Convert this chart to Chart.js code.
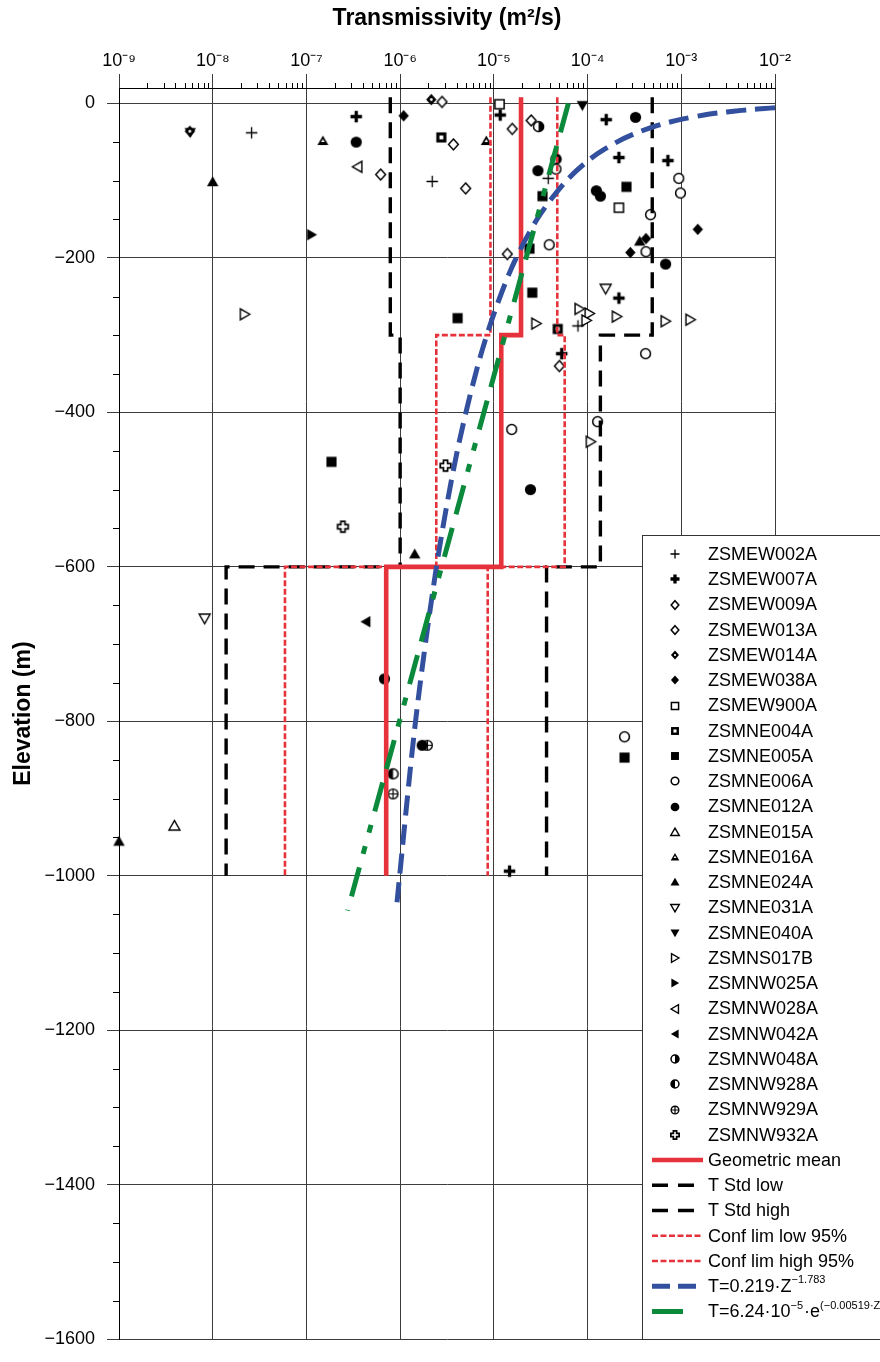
<!DOCTYPE html>
<html><head><meta charset="utf-8">
<script src="https://cdn.jsdelivr.net/npm/chart.js@4.4.1/dist/chart.umd.min.js"></script>
<style>html,body{margin:0;padding:0;background:#fff;}#wrap{width:880px;height:1362px;position:relative;overflow:hidden;}</style>
</head><body><div id="wrap"><canvas id="c" width="880" height="1362"></canvas></div>
<script>
const F = "'Liberation Sans', Arial, Helvetica, sans-serif";

// ---- axis ticks ----
const xTickValues = [1e-9, 1e-8, 1e-7, 1e-6, 1e-5, 1e-4, 1e-3, 1e-2];
const xTickLabels = ['10⁻⁹', '10⁻⁸', '10⁻⁷', '10⁻⁶', '10⁻⁵', '10⁻⁴', '10⁻³', '10⁻²'];
const yTickValues = [-1600, -1400, -1200, -1000, -800, -600, -400, -200, 0];
const yTickLabels = ['−1600', '−1400', '−1200', '−1000', '−800', '−600', '−400', '−200', '0'];

// ---- borehole data: [transmissivity (m²/s), elevation (m)] ----
const ZSMEW002A = [[2.6e-8, -38], [2.2e-6, -101], [3.8e-5, -97], [7.9e-5, -288]];
const ZSMEW007A = [[3.4e-7, -17], [1.17e-5, -15], [1.58e-4, -21], [2.16e-4, -70], [7.2e-4, -74], [2.16e-4, -252], [5.3e-5, -324], [1.47e-5, -994]];
const ZSMEW009A = [[6.2e-7, -92], [3.7e-6, -53], [1.57e-5, -33], [5.0e-6, -110]];
const ZSMEW013A = [[2.8e-6, 2], [2.5e-5, -22], [1.39e-5, -195], [5.0e-5, -340]];
const ZSMEW014A = [[2.15e-6, 5], [5.7e-9, -36]];
const ZSMEW038A = [[1.09e-6, -16], [1.5e-3, -163], [4.2e-4, -175], [2.86e-4, -193]];
const ZSMEW900A = [[1.15e-5, -1], [2.16e-4, -135]];
const ZSMNE004A = [[2.75e-6, -44], [4.8e-5, -292]];
const ZSMNE005A = [[3.3e-5, -120], [2.6e-4, -108], [2.4e-5, -188], [2.57e-5, -245], [4.1e-6, -278], [1.85e-7, -464], [2.48e-4, -847]];
const ZSMNE006A = [[4.6e-5, -85], [3.9e-5, -183], [9.4e-4, -97], [9.8e-4, -116], [4.7e-4, -144], [4.2e-4, -192], [4.16e-4, -324], [1.55e-5, -422], [1.28e-4, -412], [2.48e-4, -820]];
const ZSMNE012A = [[3.4e-7, -50], [2.95e-5, -87], [3.25e-4, -18], [1.24e-4, -113], [1.37e-4, -120], [6.8e-4, -208], [2.46e-5, -500], [6.8e-7, -745], [1.72e-6, -831]];
const ZSMNE015A = [[3.9e-9, -935]];
const ZSMNE016A = [[1.5e-7, -48], [8.3e-6, -48]];
const ZSMNE024A = [[1.0e-8, -101], [3.6e-4, -178], [1.43e-6, -583], [1.0e-9, -955]];
const ZSMNE031A = [[8.2e-9, -667], [1.56e-4, -240]];
const ZSMNE040A = [[5.75e-9, -38], [8.8e-5, -3]];
const ZSMNS017B = [[2.2e-8, -273], [2.83e-5, -285], [8.2e-5, -266], [1.05e-4, -272], [9.7e-5, -281], [2.05e-4, -276], [6.8e-4, -282], [1.25e-3, -280], [1.08e-4, -438]];
const ZSMNW025A = [[1.14e-7, -170]];
const ZSMNW028A = [[3.5e-7, -82]];
const ZSMNW042A = [[4.3e-7, -671]];
const ZSMNW048A = [[3.0e-5, -30], [4.6e-5, -72]];
const ZSMNW928A = [[8.4e-7, -868]];
const ZSMNW929A = [[1.95e-6, -831], [8.4e-7, -894]];
const ZSMNW932A = [[3.05e-6, -469], [2.45e-7, -548]];

// ---- depth zones & statistics (m²/s) ----
const zoneTop = [8, -300, -600];
const zoneBottom = [-300, -600, -1000];
const geoMean = [1.95e-5, 1.2e-5, 7.1e-7];
const stdLow = [7.85e-7, 1.0e-6, 1.39e-8];
const stdHigh = [4.9e-4, 1.37e-4, 3.65e-5];
const confLow = [9.2e-6, 2.43e-6, 5.9e-8];
const confHigh = [4.75e-5, 5.7e-5, 8.6e-6];

// ---- fitted curves: depth (m) and T (m²/s) ----
const powerDepth = [5.64, 6.5, 8, 10, 12, 15, 20, 25, 30, 40, 50, 70, 100, 150, 220, 320, 450, 600, 800, 1045];
const powerT = [1.0e-2, 7.78e-3, 5.37e-3, 3.61e-3, 2.61e-3, 1.75e-3, 1.05e-3, 7.05e-4, 5.09e-4, 3.05e-4, 2.05e-4, 1.12e-4, 5.95e-5, 2.89e-5, 1.46e-5, 7.48e-6, 4.07e-6, 2.44e-6, 1.46e-6, 9.07e-7];
const expDepth = [0, 200, 400, 600, 800, 1045];
const expT = [6.24e-5, 2.21e-5, 7.83e-6, 2.77e-6, 9.82e-7, 2.75e-7];

const RED = '#e6323b', BLUE = '#33509f', GREEN = '#0b8a3c', BLACK = '#000';

// ---- marker glyphs ----
function marker(kind, s) {
  const W = Math.ceil(s) + 7;
  const c = document.createElement('canvas'); c.width = W; c.height = W;
  const g = c.getContext('2d'); g.translate(W / 2, W / 2);
  const r = s / 2;
  g.fillStyle = '#000'; g.strokeStyle = '#000'; g.lineJoin = 'miter';
  const P = pts => { g.beginPath(); g.moveTo(pts[0][0], pts[0][1]); for (let i = 1; i < pts.length; i++) g.lineTo(pts[i][0], pts[i][1]); g.closePath(); };
  const open = lw => { g.fillStyle = '#fff'; g.fill(); g.lineWidth = lw; g.stroke(); g.fillStyle = '#000'; };
  const tri = (dir, R) => { const a0 = {up: -Math.PI / 2, down: Math.PI / 2, right: 0, left: Math.PI}[dir];
    const off = {up: [0, R * 0.2], down: [0, -R * 0.2], right: [-R * 0.2, 0], left: [R * 0.2, 0]}[dir];
    P([0, 1, 2].map(k => { const a = a0 + k * 2 * Math.PI / 3; return [R * Math.cos(a) + off[0], R * Math.sin(a) + off[1]]; })); };
  const circ = R => { g.beginPath(); g.arc(0, 0, R, 0, Math.PI * 2); };
  switch (kind) {
    case 'plus': g.lineWidth = 1.3; g.beginPath(); g.moveTo(-r, 0); g.lineTo(r, 0); g.moveTo(0, -r); g.lineTo(0, r); g.stroke(); break;
    case 'plusBold': g.lineWidth = 3.3; g.beginPath(); g.moveTo(-r, 0); g.lineTo(r, 0); g.moveTo(0, -r); g.lineTo(0, r); g.stroke(); break;
    case 'diaOpen': P([[0, -r * 0.95], [r * 0.85, 0], [0, r * 0.95], [-r * 0.85, 0]]); open(1.5); break;
    case 'diaDot': P([[0, -r], [r * 0.9, 0], [0, r], [-r * 0.9, 0]]); g.fill(); g.fillStyle = '#fff'; circ(r * 0.24); g.fill(); break;
    case 'diaFill': P([[0, -r], [r * 0.9, 0], [0, r], [-r * 0.9, 0]]); g.fill(); break;
    case 'sqOpen': g.beginPath(); g.rect(-r * 0.8, -r * 0.8, r * 1.6, r * 1.6); open(1.5); break;
    case 'sqHole': g.fillRect(-r * 0.88, -r * 0.88, r * 1.76, r * 1.76); g.fillStyle = '#fff'; g.fillRect(-r * 0.34, -r * 0.34, r * 0.68, r * 0.68); break;
    case 'sqFill': g.fillRect(-r * 0.88, -r * 0.88, r * 1.76, r * 1.76); break;
    case 'cirOpen': circ(r * 0.85); open(1.5); break;
    case 'cirFill': circ(r * 0.97); g.fill(); break;
    case 'triUpOpen': tri('up', r * 1.1); open(1.4); break;
    case 'triUpDot': tri('up', r * 1.1); g.fill(); g.fillStyle = '#fff'; tri('up', r * 0.35); g.fill(); break;
    case 'triUpFill': tri('up', r * 1.15); g.fill(); break;
    case 'triDownOpen': tri('down', r * 1.1); open(1.4); break;
    case 'triDownFill': tri('down', r * 1.15); g.fill(); break;
    case 'triRightOpen': tri('right', r * 1.1); open(1.4); break;
    case 'triRightFill': tri('right', r * 1.15); g.fill(); break;
    case 'triLeftOpen': tri('left', r * 1.1); open(1.4); break;
    case 'triLeftFill': tri('left', r * 1.15); g.fill(); break;
    case 'halfR': circ(r * 0.88); g.fillStyle = '#fff'; g.fill(); g.fillStyle = '#000';
      g.beginPath(); g.arc(0, 0, r * 0.88, -Math.PI / 2, Math.PI / 2); g.closePath(); g.fill();
      circ(r * 0.88); g.lineWidth = 1.5; g.stroke(); break;
    case 'halfL': circ(r * 0.88); g.fillStyle = '#fff'; g.fill(); g.fillStyle = '#000';
      g.beginPath(); g.arc(0, 0, r * 0.88, Math.PI / 2, Math.PI * 1.5); g.closePath(); g.fill();
      circ(r * 0.88); g.lineWidth = 1.5; g.stroke(); break;
    case 'cirPlus': circ(r * 0.85); open(1.4); g.lineWidth = 1.2; g.beginPath(); g.moveTo(-r * 0.85, 0); g.lineTo(r * 0.85, 0); g.moveTo(0, -r * 0.85); g.lineTo(0, r * 0.85); g.stroke(); break;
    case 'crossOpen': { const w = r * 0.36, L = r * 0.92;
      P([[-w, -L], [w, -L], [w, -w], [L, -w], [L, w], [w, w], [w, L], [-w, L], [-w, w], [-L, w], [-L, -w], [-w, -w]]); open(1.7); break; }
  }
  return c;
}

const boreholes = [
  ['ZSMEW002A', ZSMEW002A, 'plus'], ['ZSMEW007A', ZSMEW007A, 'plusBold'], ['ZSMEW009A', ZSMEW009A, 'diaOpen'],
  ['ZSMEW013A', ZSMEW013A, 'diaOpen'], ['ZSMEW014A', ZSMEW014A, 'diaDot'], ['ZSMEW038A', ZSMEW038A, 'diaFill'],
  ['ZSMEW900A', ZSMEW900A, 'sqOpen'], ['ZSMNE004A', ZSMNE004A, 'sqHole'], ['ZSMNE005A', ZSMNE005A, 'sqFill'],
  ['ZSMNE006A', ZSMNE006A, 'cirOpen'], ['ZSMNE012A', ZSMNE012A, 'cirFill'], ['ZSMNE015A', ZSMNE015A, 'triUpOpen'],
  ['ZSMNE016A', ZSMNE016A, 'triUpDot'], ['ZSMNE024A', ZSMNE024A, 'triUpFill'], ['ZSMNE031A', ZSMNE031A, 'triDownOpen'],
  ['ZSMNE040A', ZSMNE040A, 'triDownFill'], ['ZSMNS017B', ZSMNS017B, 'triRightOpen'], ['ZSMNW025A', ZSMNW025A, 'triRightFill'],
  ['ZSMNW028A', ZSMNW028A, 'triLeftOpen'], ['ZSMNW042A', ZSMNW042A, 'triLeftFill'], ['ZSMNW048A', ZSMNW048A, 'halfR'],
  ['ZSMNW928A', ZSMNW928A, 'halfL'], ['ZSMNW929A', ZSMNW929A, 'cirPlus'], ['ZSMNW932A', ZSMNW932A, 'crossOpen']
];

function stepPath(vals) {
  const pts = [];
  vals.forEach((v, i) => { pts.push({x: v, y: zoneTop[i]}); pts.push({x: v, y: zoneBottom[i]}); });
  return pts;
}

const GREEN_DASH = [30, 14, 30, 14, 8, 14, 8, 14];
const lineSets = [
  {label: 'Geometric mean', data: stepPath(geoMean), borderColor: RED, borderWidth: 4.6, borderDash: [], order: 3},
  {label: 'T Std low', data: stepPath(stdLow), borderColor: BLACK, borderWidth: 3.4, borderDash: [16, 9], order: 6},
  {label: 'T Std high', data: stepPath(stdHigh), borderColor: BLACK, borderWidth: 3.4, borderDash: [16, 9], order: 6},
  {label: 'Conf lim low 95%', data: stepPath(confLow), borderColor: RED, borderWidth: 2.6, borderDash: [6, 2.5], order: 5},
  {label: 'Conf lim high 95%', data: stepPath(confHigh), borderColor: RED, borderWidth: 2.6, borderDash: [6, 2.5], order: 5},
  {label: 'T=0.219·Z^-1.783', data: powerDepth.map((z, i) => ({x: powerT[i], y: -z})), borderColor: BLUE, borderWidth: 5, borderDash: [20, 9], tension: 0.3, order: 2},
  {label: 'T=6.24·10^-5·e^(-0.00519·Z)', data: expDepth.map((z, i) => ({x: expT[i], y: -z})), borderColor: GREEN, borderWidth: 5, borderDash: GREEN_DASH, order: 1}
];

const datasets = [];
boreholes.forEach(([name, arr, kind]) => datasets.push({
  label: name, data: arr.map(([t, z]) => ({x: t, y: z})), pointStyle: marker(kind, 11.5),
  pointRadius: 5, showLine: false, clip: false, order: 10
}));
lineSets.forEach(l => datasets.push(Object.assign({showLine: true, pointRadius: 0, fill: false, clip: 0, tension: 0}, l)));

// ---- minor ticks ----
const minorTicks = {
  id: 'minorTicks',
  afterDraw(chart) {
    const {ctx, scales: {x, y}, chartArea: a} = chart;
    ctx.save(); ctx.strokeStyle = '#000'; ctx.lineWidth = 1; ctx.beginPath();
    for (let e = -9; e < -2; e++) for (let k = 2; k <= 9; k++) {
      const px = Math.round(x.getPixelForValue(k * Math.pow(10, e))) + 0.5;
      ctx.moveTo(px, a.top); ctx.lineTo(px, a.top - 5);
    }
    for (let v = -1550; v < 20; v += 50) {
      if (v % 200 === 0) continue;
      const py = Math.round(y.getPixelForValue(v)) + 0.5;
      ctx.moveTo(a.left, py); ctx.lineTo(a.left - 6, py);
    }
    ctx.stroke(); ctx.restore();
  }
};

// ---- legend (boxed, overlapping the plot at lower right) ----
const legendBox = {
  id: 'legendBox',
  afterDraw(chart) {
    const ctx = chart.ctx;
    const bx = 642.5, by = 535.5, bw = 260, bh = 804;
    const y0 = 554, dy = 25.25, mx = 675, tx = 708;
    ctx.save();
    ctx.fillStyle = '#fff'; ctx.fillRect(bx, by, bw, bh);
    ctx.strokeStyle = '#333'; ctx.lineWidth = 1; ctx.strokeRect(bx, by, bw, bh);
    ctx.font = '18px ' + F; ctx.fillStyle = '#000'; ctx.textBaseline = 'middle'; ctx.textAlign = 'left';
    boreholes.forEach(([name, , kind], i) => {
      const y = y0 + i * dy;
      const img = marker(kind, 9);
      ctx.drawImage(img, Math.round(mx - img.width / 2), Math.round(y - img.height / 2));
      ctx.fillText(name, tx, y + 1);
    });
    const seg = (y, color, w, dash, x1, x2) => {
      ctx.save(); ctx.strokeStyle = color; ctx.lineWidth = w; ctx.setLineDash(dash);
      ctx.beginPath(); ctx.moveTo(x1, y); ctx.lineTo(x2, y); ctx.stroke(); ctx.restore();
    };
    const txt = (y, parts) => {
      let x = tx;
      parts.forEach(p => {
        ctx.font = (p.sup ? '11px ' : '18px ') + F;
        ctx.fillText(p.t, x, p.sup ? y - 6 : y + 1);
        x += ctx.measureText(p.t).width + (p.sup ? 1 : 0);
      });
      ctx.font = '18px ' + F;
    };
    let i = boreholes.length;
    let y = y0 + i * dy;
    seg(y, RED, 4.6, [], 652, 703); txt(y, [{t: 'Geometric mean'}]); y += dy;
    seg(y, BLACK, 3.4, [16, 10], 652, 697); txt(y, [{t: 'T Std low'}]); y += dy;
    seg(y, BLACK, 3.4, [16, 10], 652, 697); txt(y, [{t: 'T Std high'}]); y += dy;
    seg(y, RED, 2.6, [6, 2.5], 652, 703); txt(y, [{t: 'Conf lim low 95%'}]); y += dy;
    seg(y, RED, 2.6, [6, 2.5], 652, 703); txt(y, [{t: 'Conf lim high 95%'}]); y += dy;
    seg(y, BLUE, 5, [18, 8], 652, 697); txt(y, [{t: 'T=0.219·Z'}, {t: '−1.783', sup: true}]); y += dy;
    seg(y, GREEN, 5, [], 652, 683); txt(y, [{t: 'T=6.24·10'}, {t: '−5', sup: true}, {t: '·e'}, {t: '(−0.00519·Z)', sup: true}]);
    ctx.restore();
  }
};

Chart.defaults.font.family = F;
new Chart(document.getElementById('c'), {
  type: 'scatter',
  data: {datasets},
  options: {
    responsive: false, animation: false, devicePixelRatio: 1,
    layout: {padding: {left: 0, top: 0, right: 105, bottom: 12}},
    plugins: {legend: {display: false}, tooltip: {enabled: false}, title: {display: false}},
    scales: {
      x: {
        type: 'logarithmic', position: 'top', min: 1e-9, max: 1e-2,
        afterBuildTicks: s => { s.ticks = xTickValues.map(v => ({value: v, major: true})); },
        afterFit: s => { s.height = 88; },
        ticks: {autoSkip: false, maxRotation: 0, minRotation: 0, padding: 2, color: '#000', font: {family: F, size: 18},
          callback: (v, i) => xTickLabels[i]},
        grid: {color: '#3c3c3c', lineWidth: 1, tickLength: 14},
        border: {display: true, color: '#000', width: 1},
        title: {display: true, text: 'Transmissivity (m²/s)', color: '#000', font: {family: F, size: 23, weight: 'bold'}, padding: {top: 5, bottom: 0}}
      },
      y: {
        type: 'linear', min: -1600, max: 20,
        afterBuildTicks: s => { s.ticks = yTickValues.map(v => ({value: v})); },
        afterFit: s => { s.width = 119; },
        ticks: {autoSkip: false, padding: 12, color: '#000', font: {family: F, size: 18},
          callback: (v, i) => yTickLabels[i]},
        grid: {color: '#3c3c3c', lineWidth: 1, tickLength: 12},
        border: {display: true, color: '#000', width: 1},
        title: {display: true, text: 'Elevation (m)', color: '#000', font: {family: F, size: 23, weight: 'bold'}, padding: {top: 10, bottom: 0}}
      }
    }
  },
  plugins: [minorTicks, legendBox]
});
</script></body></html>
